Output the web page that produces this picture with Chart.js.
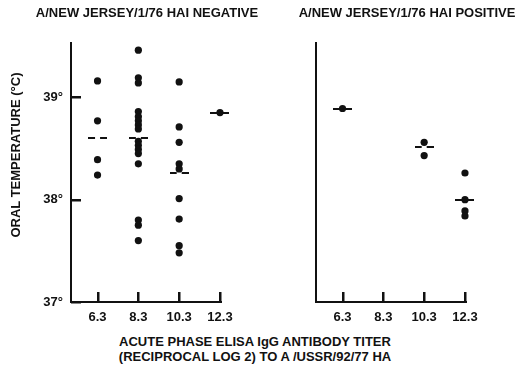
<!DOCTYPE html>
<html>
<head>
<meta charset="utf-8">
<script src="https://cdn.jsdelivr.net/npm/chart.js@4.4.1/dist/chart.umd.min.js"></script>
<style>
  html, body { margin: 0; padding: 0; background: #fff; }
  body { width: 517px; height: 369px; position: relative; overflow: hidden;
         font-family: "Liberation Sans", Arial, sans-serif; }
  #left { position: absolute; left: 0; top: 0; }
  #right { position: absolute; left: 296px; top: 0; }
  .txt { position: absolute; font-weight: bold; font-size: 13px; color: #111; white-space: nowrap; }
  #tneg { left: 27px; top: 5px; width: 240px; text-align: center; line-height: 16px; }
  #tpos { left: 287px; top: 5px; width: 240px; text-align: center; line-height: 16px; }
  #ytitle { left: -84px; top: 147px; width: 200px; text-align: center; line-height: 16px;
            transform: rotate(-90deg); transform-origin: 50% 50%; }
  #xtitle { left: 105px; top: 334px; width: 300px; text-align: center; line-height: 15px; }
</style>
</head>
<body>
<canvas id="left" width="294" height="330"></canvas>
<canvas id="right" width="221" height="330"></canvas>
<div class="txt" id="tneg"></div>
<div class="txt" id="tpos"></div>
<div class="txt" id="ytitle"></div>
<div class="txt" id="xtitle"></div>
<script>
// ---- data ----
const titers = [6.3, 8.3, 10.3, 12.3];
const xTickLabels = ['6.3', '8.3', '10.3', '12.3'];
const yTicks = [37, 38, 39];
const yTickLabels = ['37°', '38°', '39°'];

const titleNegative = 'A/NEW JERSEY/1/76 HAI NEGATIVE';
const titlePositive = 'A/NEW JERSEY/1/76 HAI POSITIVE';
const yAxisTitle = 'ORAL TEMPERATURE (°C)';
const xAxisTitleLines = ['ACUTE PHASE ELISA IgG ANTIBODY TITER', '(RECIPROCAL LOG 2) TO A /USSR/92/77 HA'];

// HAI negative panel
const neg63 = [39.16, 38.77, 38.39, 38.24];
const neg83 = [39.46, 39.19, 39.14, 38.86, 38.81, 38.77, 38.73, 38.69, 38.57, 38.53, 38.49, 38.45, 38.35, 37.80, 37.75, 37.60];
const neg103 = [39.15, 38.71, 38.56, 38.35, 38.30, 38.01, 37.81, 37.55, 37.48];
const neg123 = [38.85];
const negMedians = [38.60, 38.60, 38.26, 38.85];

// HAI positive panel
const pos63 = [38.89];
const pos83 = [];
const pos103 = [38.56, 38.43];
const pos123 = [38.26, 38.00, 37.89, 37.84];
const posMedians = [38.89, null, 38.51, 38.00];

// ---- text ----
document.getElementById('tneg').textContent = titleNegative;
document.getElementById('tpos').textContent = titlePositive;
document.getElementById('ytitle').textContent = yAxisTitle;
document.getElementById('xtitle').innerHTML = xAxisTitleLines.join('<br>');

function toPoints(groups) {
  return titers.flatMap((t, i) => groups[i].map(v => ({ x: t, y: v })));
}
function toMedianPoints(meds) {
  return titers.map((t, i) => meds[i] == null ? null : ({ x: t, y: meds[i] })).filter(p => p);
}
// median marker "- -"
const dash = document.createElement('canvas');
dash.width = 19; dash.height = 2;
(function () {
  const c = dash.getContext('2d');
  c.fillStyle = '#111';
  c.fillRect(0, 0, 7, 2);
  c.fillRect(12, 0, 7, 2);
})();

// inward tick marks at the scales' tick positions
const inwardTicks = {
  id: 'inwardTicks',
  afterDraw(chart, args, opts) {
    const ctx = chart.ctx;
    const area = chart.chartArea;
    const len = 10;
    ctx.save();
    ctx.fillStyle = '#111';
    const xs = chart.scales.x;
    xs.ticks.forEach(t => {
      const px = Math.round(xs.getPixelForValue(t.value));
      ctx.fillRect(px - 1, area.bottom - len, 2.5, len);
    });
    if (opts && opts.y) {
      const ys = chart.scales.y;
      ys.ticks.forEach(t => {
        const py = Math.round(ys.getPixelForValue(t.value));
        ctx.fillRect(area.left, py - 1, len, 2.5);
      });
    }
    ctx.restore();
  }
};

Chart.defaults.font.family = '"Liberation Sans", Arial, sans-serif';
Chart.defaults.color = '#111';

function makeChart(id, groups, meds, showYLabels, yWidth, rightPad) {
  return new Chart(document.getElementById(id), {
    type: 'scatter',
    plugins: [inwardTicks],
    data: {
      datasets: [
        { data: toPoints(groups), pointRadius: 3.6, pointHoverRadius: 3.6, pointBackgroundColor: '#111',
          pointBorderColor: '#111', pointBorderWidth: 0, clip: false, order: 1 },
        { data: toMedianPoints(meds), pointStyle: dash, pointRadius: 10, clip: false, order: 2 }
      ]
    },
    options: {
      responsive: false,
      animation: false,
      events: [],
      layout: { padding: { top: 43, right: rightPad, left: 0, bottom: 0 } },
      plugins: {
        legend: { display: false },
        tooltip: { enabled: false },
        title: { display: false },
        inwardTicks: { y: showYLabels }
      },
      scales: {
        x: {
          type: 'linear', min: 5.0, max: 12.35,
          afterBuildTicks: s => { s.ticks = titers.map(v => ({ value: v })); },
          afterFit: s => { s.height = 28; s.paddingLeft = 0; s.paddingRight = 0; },
          ticks: { callback: (v, i) => xTickLabels[i], font: { size: 13, weight: 'bold' }, color: '#111', padding: 16.7, maxRotation: 0 },
          grid: { drawOnChartArea: false, drawTicks: true, tickLength: -9, lineWidth: 2, color: 'rgba(0,0,0,0)' },
          border: { display: true, color: '#111', width: 2 }
        },
        y: {
          type: 'linear', position: 'left', min: 37, max: 39.53,
          afterBuildTicks: s => { s.ticks = yTicks.map(v => ({ value: v })); },
          afterFit: s => { s.width = yWidth; s.paddingTop = 0; s.paddingBottom = 0; },
          ticks: { display: showYLabels, callback: (v, i) => yTickLabels[i], font: { size: 13, weight: 'bold' }, color: '#111', padding: 17 },
          grid: { drawOnChartArea: false, drawTicks: true, tickLength: -9, lineWidth: 2, color: 'rgba(0,0,0,0)' },
          border: { display: true, color: '#111', width: 2 }
        }
      }
    }
  });
}

makeChart('left', [neg63, neg83, neg103, neg123], negMedians, true, 71, 73);
makeChart('right', [pos63, pos83, pos103, pos123], posMedians, false, 20, 51);
</script>
</body>
</html>
